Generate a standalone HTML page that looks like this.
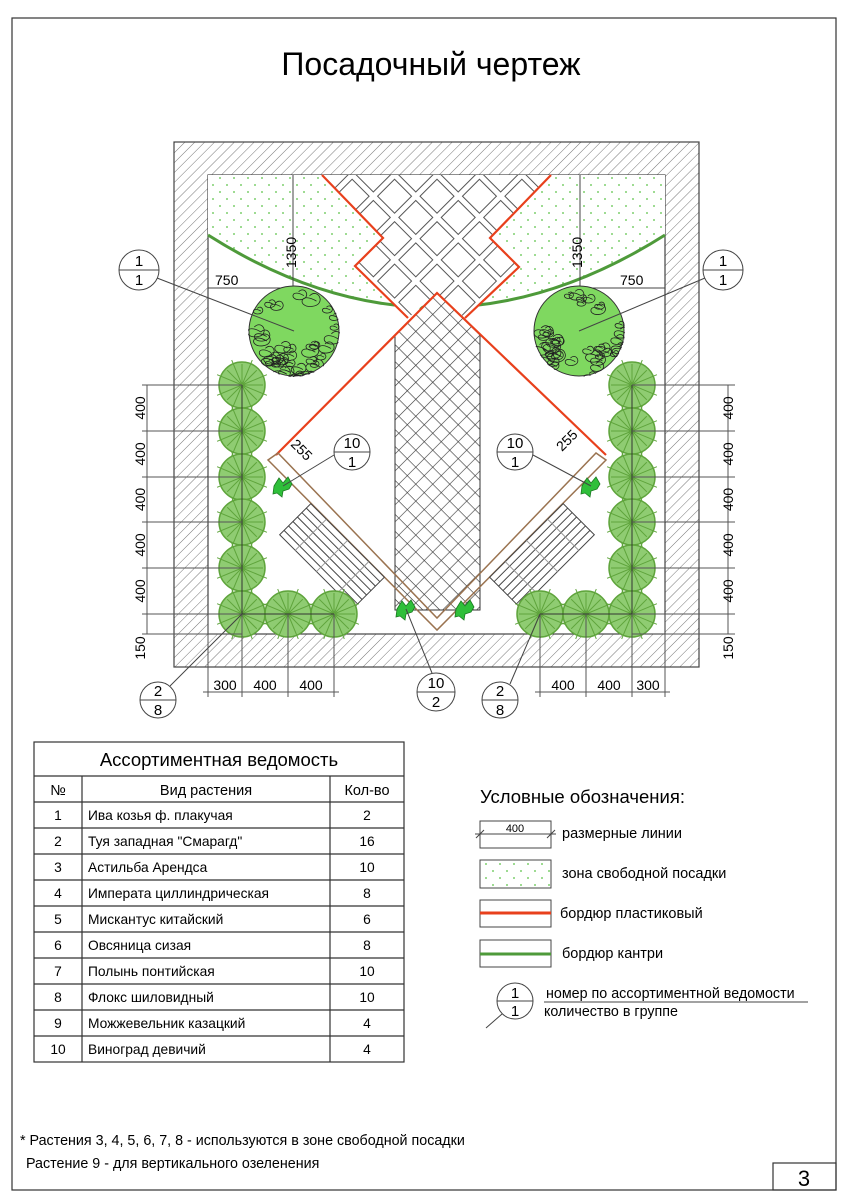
<!DOCTYPE html>
<html><head><meta charset="utf-8"><style>
body{margin:0;background:#fff}
svg{display:block;font-family:"Liberation Sans",sans-serif}
</style></head><body>
<svg id="s" xmlns="http://www.w3.org/2000/svg" width="849" height="1200" viewBox="0 0 849 1200">
<defs>
<pattern id="hatch" width="7" height="7" patternUnits="userSpaceOnUse" patternTransform="rotate(45)">
<rect width="7" height="7" fill="#fff"/><line x1="0" y1="0" x2="0" y2="7" stroke="#777" stroke-width="1"/></pattern>
<pattern id="dots" width="14" height="14" patternUnits="userSpaceOnUse">
<rect width="14" height="14" fill="#fff"/><circle cx="3" cy="3" r="1" fill="#7fd070"/><circle cx="10" cy="10" r="1" fill="#7fd070"/></pattern>
<pattern id="cross" width="12" height="12" patternUnits="userSpaceOnUse" patternTransform="rotate(45)">
<rect width="12" height="12" fill="#fff"/><path d="M0 0H12M0 0V12" stroke="#333" stroke-width="1.2"/></pattern>
<pattern id="tiles" width="30" height="30" patternUnits="userSpaceOnUse" patternTransform="translate(437,175) rotate(45)">
<rect width="30" height="30" fill="#fff"/><rect x="3" y="3" width="24" height="24" fill="#fff" stroke="#555" stroke-width="1"/></pattern>
<clipPath id="arcclip"><path d="M208 175H665V235Q436 380 208 235Z"/></clipPath>
<clipPath id="wc1"><circle cx="294" cy="331" r="46"/></clipPath>
<clipPath id="wc2"><circle cx="579" cy="331" r="46"/></clipPath>
</defs>
<rect x="12" y="18" width="824" height="1172" fill="none" stroke="#333" stroke-width="1.2"/>
<rect x="773" y="1163" width="63" height="27" fill="none" stroke="#333" stroke-width="1.2"/>
<text x="804" y="1186" font-size="22" text-anchor="middle">3</text>
<text x="431" y="75" font-size="32" text-anchor="middle">Посадочный чертеж</text>

<rect x="174" y="142" width="525" height="525" fill="url(#hatch)" stroke="#444" stroke-width="1.2"/>
<rect x="208" y="175" width="457" height="459" fill="#fff" stroke="#444" stroke-width="1.2"/>
<rect x="208" y="175" width="457" height="200" fill="url(#dots)" clip-path="url(#arcclip)"/>
<path d="M208 235Q436 380 665 235" fill="none" stroke="#4e9a3a" stroke-width="3"/>
<polygon points="322,175 551,175 490,238 519,267 465,318 437,293 408,318 355,266 383,238" fill="url(#tiles)"/>
<path d="M395 335L437 293L480 335V610H395Z" fill="url(#cross)" stroke="#333" stroke-width="1"/>
<g fill="none" stroke="#e8401c" stroke-width="2.2">
<path d="M322 175L383 238L355 266L408 318"/>
<path d="M551 175L490 238L519 267L465 318"/>
<path d="M276 455L437 293L606 455"/>
</g>
<g fill="none" stroke="#9a7350" stroke-width="1.5">
<path d="M268 460L437 630L606 460L596 453L437 618L278 453Z"/>
</g>
<g id="decks"></g>
<line x1="293" y1="175" x2="293" y2="287" stroke="#444"/>
<line x1="208" y1="288" x2="293" y2="288" stroke="#444"/>
<line x1="580" y1="175" x2="580" y2="287" stroke="#444"/>
<line x1="580" y1="288" x2="665" y2="288" stroke="#444"/>
<g id="trees"></g>
<g id="dims" stroke="#555" stroke-width="1" fill="none"></g>
<g id="labels" font-size="14"></g>
<text x="0" y="0" font-size="14" transform="translate(296,268) rotate(-90)">1350</text>
<text x="0" y="0" font-size="14" transform="translate(582,268) rotate(-90)">1350</text>
<text x="215" y="285" font-size="14">750</text>
<text x="620" y="285" font-size="14">750</text>
<text font-size="14" transform="translate(290,445) rotate(45)">255</text>
<text font-size="14" transform="translate(562,452) rotate(-45)">255</text>

<g stroke="#333" stroke-width="1.2" fill="none" id="tbl">
<rect x="34" y="742" width="370" height="320"/>
<line x1="34" y1="776" x2="404" y2="776"/>
<line x1="82" y1="776" x2="82" y2="1062"/>
<line x1="330" y1="776" x2="330" y2="1062"/>
</g>
<g id="tbltext" font-size="13.8"></g>
<text x="219" y="766" font-size="18.5" text-anchor="middle">Ассортиментная ведомость</text>
<text x="58" y="795" font-size="14.5" text-anchor="middle">№</text>
<text x="206" y="795" font-size="14.5" text-anchor="middle">Вид растения</text>
<text x="367" y="795" font-size="14.5" text-anchor="middle">Кол-во</text>

<text x="480" y="803" font-size="18.5">Условные обозначения:</text>
<rect x="480" y="821" width="71" height="27" fill="none" stroke="#444"/>
<line x1="475" y1="834" x2="556" y2="834" stroke="#444"/>
<line x1="476" y1="838" x2="484" y2="830" stroke="#444"/><line x1="547" y1="838" x2="555" y2="830" stroke="#444"/>
<text x="515" y="832" font-size="11" text-anchor="middle">400</text>
<text x="562" y="838" font-size="14.5">размерные линии</text>
<rect x="480" y="860" width="71" height="28" fill="url(#dots)" stroke="#444"/>
<text x="562" y="878" font-size="14.5">зона свободной посадки</text>
<rect x="480" y="900" width="71" height="27" fill="none" stroke="#444"/>
<line x1="480" y1="913" x2="551" y2="913" stroke="#e8401c" stroke-width="3"/>
<text x="560" y="918" font-size="14.5">бордюр пластиковый</text>
<rect x="480" y="940" width="71" height="27" fill="none" stroke="#444"/>
<line x1="480" y1="954" x2="551" y2="954" stroke="#4e9a3a" stroke-width="3"/>
<text x="562" y="958" font-size="14.5">бордюр кантри</text>
<circle cx="515" cy="1001" r="18" fill="#fff" stroke="#444"/>
<line x1="497" y1="1001" x2="533" y2="1001" stroke="#444"/>
<line x1="502" y1="1014" x2="486" y2="1028" stroke="#444"/>
<text x="515" y="998" font-size="15" text-anchor="middle">1</text>
<text x="515" y="1016" font-size="15" text-anchor="middle">1</text>
<text x="546" y="998" font-size="14.3">номер по ассортиментной ведомости</text>
<line x1="544" y1="1002" x2="808" y2="1002" stroke="#444"/>
<text x="544" y="1016" font-size="14.3">количество в группе</text>

<text x="20" y="1145" font-size="14.3">* Растения 3, 4, 5, 6, 7, 8 - используются в зоне свободной посадки</text>
<text x="26" y="1168" font-size="14.3">Растение 9 - для вертикального озеленения</text>
</svg>
<script>
var NS="http://www.w3.org/2000/svg";
function el(p,t,a,txt){var e=document.createElementNS(NS,t);for(var k in a)e.setAttribute(k,a[k]);if(txt!=null)e.textContent=txt;document.getElementById(p).appendChild(e);return e;}
[[332,556,45],[542,556,-45]].forEach(function(d){
 var g=el('decks','g',{transform:'translate('+d[0]+','+d[1]+') rotate('+d[2]+')',stroke:'#444','stroke-width':'1',fill:'#fff'});
 var r=document.createElementNS(NS,'rect');r.setAttribute('x',-52);r.setAttribute('y',-22);r.setAttribute('width',104);r.setAttribute('height',44);g.appendChild(r);
 for(var i=1;i<7;i++){var l=document.createElementNS(NS,'line');l.setAttribute('x1',-52);l.setAttribute('x2',52);l.setAttribute('y1',-22+i*6.3);l.setAttribute('y2',-22+i*6.3);g.appendChild(l);}
 for(var j=-1;j<=1;j++){var l2=document.createElementNS(NS,'line');l2.setAttribute('x1',j*30);l2.setAttribute('x2',j*30);l2.setAttribute('y1',-22);l2.setAttribute('y2',22);l2.setAttribute('stroke','#999');g.appendChild(l2);}
});
var ys=[385,431,477,522,568,614];
var T=[];ys.forEach(function(y){T.push([242,y]);T.push([632,y]);});
T.push([288,614],[334,614],[540,614],[586,614]);
T.forEach(function(p){
 el('trees','circle',{cx:p[0],cy:p[1],r:23,fill:'#8fcc72',stroke:'#5fa43c','stroke-width':'1.5'});
 var d='';for(var a=0;a<16;a++){var an=a*Math.PI/8,r2=(a%2?27:21);d+='M'+p[0]+' '+p[1]+'L'+(p[0]+r2*Math.cos(an)).toFixed(1)+' '+(p[1]+r2*Math.sin(an)).toFixed(1);}
 el('trees','path',{d:d,stroke:'#5fa43c','stroke-width':'1',fill:'none'});
});
el('trees','path',{d:'M242 385V614H334M632 385V614H540',stroke:'#333','stroke-width':'1',fill:'none'});
var seed=3;function rnd(){seed=(seed*9301+49297)%233280;return seed/233280;}
[[294,331,'wc1'],[579,331,'wc2']].forEach(function(c){
 el('trees','circle',{cx:c[0],cy:c[1],r:45,fill:'#7fd860',stroke:'#333','stroke-width':'1'});
 var d='';
 for(var i=0;i<40;i++){
  var an=rnd()*Math.PI*2, rr=30+rnd()*14;
  if(rnd()<0.35){an=Math.PI*0.1+rnd()*Math.PI*0.9;rr=15+rnd()*28;}
  var x=c[0]+rr*Math.cos(an),y=c[1]+rr*Math.sin(an),s=4+rnd()*5;
  d+='M'+x.toFixed(1)+' '+y.toFixed(1)+' c'+s+' '+(-s)+' '+(2*s)+' '+s+' '+(s*0.3)+' '+(s*1.2)+' s'+(-s*1.5)+' '+(-s*1.8)+' '+(s*0.5)+' '+(-s*0.6);
 }
 el('trees','path',{d:d,fill:'none',stroke:'#222','stroke-width':'0.8','clip-path':'url(#'+c[2]+')'});
});
[[283,486],[591,486],[406,609],[465,609]].forEach(function(p){
 el('trees','path',{d:'M'+(p[0]-9)+' '+p[1]+' l5 -8 l4 5 l5 -6 l4 7 l-3 5 l-6 2 l-1 6 l-5 -4 l-4 1z',fill:'#2fbf3a',stroke:'#1a7a20','stroke-width':'0.8'});
});
function L(x1,y1,x2,y2){el('dims','line',{x1:x1,y1:y1,x2:x2,y2:y2});}
ys.concat([634]).forEach(function(y){L(142,y,242,y);L(632,y,735,y);});
L(147,385,147,634);L(728,385,728,634);
[208,242,288,334].forEach(function(x){L(x,614,x,697);});
[540,586,632,665].forEach(function(x){L(x,614,x,697);});
L(203,692,339,692);L(535,692,670,692);
function lab(x,y,t,rot){el('labels','text',{transform:'translate('+x+','+y+') rotate('+(rot||0)+')','text-anchor':'middle'},t);}
for(var i=0;i<5;i++){lab(145,(ys[i]+ys[i+1])/2,'400',-90);lab(733,(ys[i]+ys[i+1])/2,'400',-90);}
lab(145,648,'150',-90);lab(733,648,'150',-90);
lab(225,690,'300');lab(265,690,'400');lab(311,690,'400');
lab(563,690,'400');lab(609,690,'400');lab(648,690,'300');
function co(cx,cy,r,a,b,tx,ty,lx,ly){
 if(lx!=null) el('labels','line',{x1:lx,y1:ly,x2:tx,y2:ty,stroke:'#444'});
 el('labels','circle',{cx:cx,cy:cy,r:r,fill:'#fff',stroke:'#444'});
 el('labels','line',{x1:cx-r,y1:cy,x2:cx+r,y2:cy,stroke:'#444'});
 el('labels','text',{x:cx,y:cy-4,'text-anchor':'middle','font-size':'15'},a);
 el('labels','text',{x:cx,y:cy+15,'text-anchor':'middle','font-size':'15'},b);
}
co(139,270,20,'1','1',294,331,157,278);
co(723,270,20,'1','1',579,331,705,278);
co(352,452,18,'10','1',283,486,334,455);
co(515,452,18,'10','1',591,486,533,455);
co(436,692,19,'10','2',406,609,432,673);
co(158,700,18,'2','8',242,614,170,686);
co(500,700,18,'2','8',540,614,510,684);
var rows=[['1','Ива козья ф. плакучая','2'],['2','Туя западная "Смарагд"','16'],['3','Астильба Арендса','10'],['4','Императа циллиндрическая','8'],['5','Мискантус китайский','6'],['6','Овсяница сизая','8'],['7','Полынь понтийская','10'],['8','Флокс шиловидный','10'],['9','Можжевельник казацкий','4'],['10','Виноград девичий','4']];
rows.forEach(function(r,i){
 var y=802+i*26;
 el('tbl','line',{x1:34,y1:y,x2:404,y2:y});
 el('tbltext','text',{x:58,y:y+18,'text-anchor':'middle'},r[0]);
 el('tbltext','text',{x:88,y:y+18},r[1]);
 el('tbltext','text',{x:367,y:y+18,'text-anchor':'middle'},r[2]);
});
</script>
</body></html>
